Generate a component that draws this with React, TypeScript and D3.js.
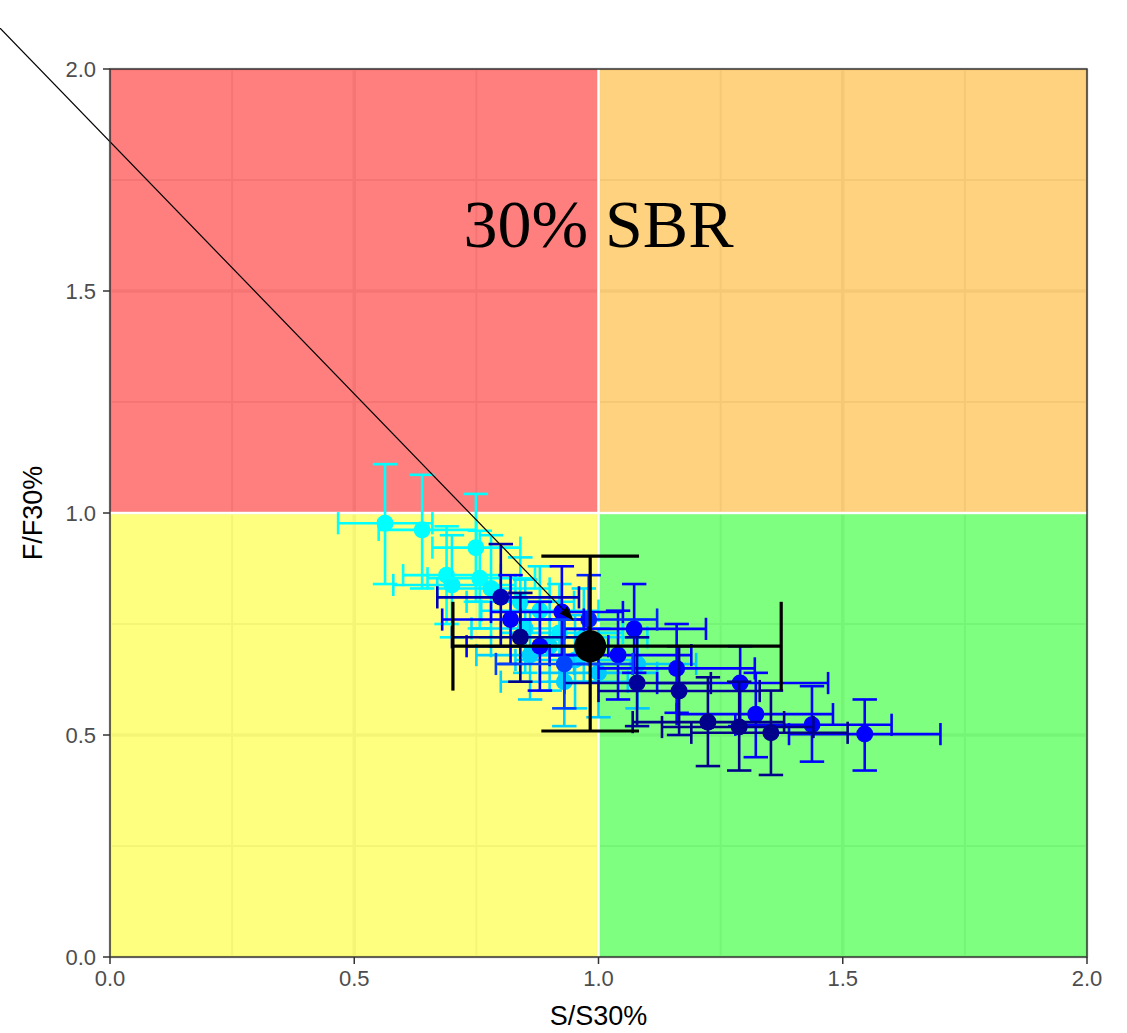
import React from "react";
import * as d3 from "d3";

const W = 1127;
const H = 1033;
const M = { left: 110, right: 1087, top: 69, bottom: 957 };

const xTicks = [0, 0.5, 1, 1.5, 2];
const yTicks = [0, 0.5, 1, 1.5, 2];
const minorTicks = [0.25, 0.75, 1.25, 1.75];

// individual estimates (S/S30%, F/F30%) with intervals; shade 0 = cyan ... 1 = navy
const ptX = [0.563, 0.639, 0.749, 0.689, 0.70, 0.757, 0.78, 0.84, 0.88, 0.85, 0.92, 0.952, 0.97, 0.90, 0.86, 1.0, 0.93, 1.08,
  0.925, 0.80, 1.073, 1.04, 1.16, 1.29, 1.322, 1.437, 1.545, 0.98, 0.88, 0.82,
  1.079, 1.165, 1.224, 1.288, 1.353, 0.84, 0.93];
const ptY = [0.977, 0.962, 0.922, 0.86, 0.838, 0.853, 0.83, 0.80, 0.78, 0.74, 0.73, 0.669, 0.72, 0.70, 0.68, 0.64, 0.62, 0.66,
  0.777, 0.81, 0.739, 0.68, 0.65, 0.617, 0.547, 0.523, 0.502, 0.76, 0.70, 0.76,
  0.617, 0.599, 0.529, 0.518, 0.505, 0.72, 0.66];
const ptXLo = [0.467, 0.55, 0.66, 0.60, 0.58, 0.65, 0.67, 0.73, 0.76, 0.74, 0.80, 0.83, 0.85, 0.78, 0.75, 0.88, 0.80, 0.95,
  0.78, 0.67, 0.93, 0.90, 1.00, 1.12, 1.16, 1.28, 1.39, 0.84, 0.73, 0.68,
  0.93, 1.00, 1.07, 1.13, 1.19, 0.70, 0.79];
const ptXHi = [0.66, 0.75, 0.84, 0.80, 0.83, 0.87, 0.90, 0.95, 1.0, 0.97, 1.05, 1.08, 1.10, 1.02, 0.98, 1.12, 1.06, 1.20,
  1.05, 0.96, 1.22, 1.19, 1.32, 1.47, 1.48, 1.60, 1.70, 1.12, 1.02, 0.97,
  1.23, 1.33, 1.38, 1.44, 1.51, 0.98, 1.07];
const ptYLo = [0.84, 0.83, 0.80, 0.75, 0.72, 0.74, 0.72, 0.70, 0.68, 0.64, 0.62, 0.56, 0.62, 0.60, 0.58, 0.54, 0.52, 0.56,
  0.68, 0.70, 0.64, 0.58, 0.55, 0.52, 0.45, 0.44, 0.42, 0.66, 0.60, 0.66,
  0.52, 0.50, 0.43, 0.42, 0.41, 0.62, 0.56];
const ptYHi = [1.11, 1.086, 1.043, 0.97, 0.95, 0.96, 0.95, 0.90, 0.88, 0.85, 0.84, 0.77, 0.83, 0.80, 0.78, 0.74, 0.72, 0.76,
  0.88, 0.93, 0.84, 0.78, 0.75, 0.70, 0.64, 0.61, 0.58, 0.86, 0.80, 0.86,
  0.72, 0.70, 0.63, 0.62, 0.60, 0.82, 0.76];
const ptShade = [0, 0, 0, 0, 0.05, 0, 0.05, 0.1, 0.1, 0.15, 0.1, 0.2, 0.15, 0.2, 0.25, 0.3, 0.25, 0.3,
  0.6, 0.85, 0.6, 0.6, 0.6, 0.6, 0.6, 0.6, 0.6, 0.55, 0.6, 0.6,
  0.95, 0.95, 1, 1, 1, 1, 0.5];

// reference (base case) estimate
const refX = 0.983, refY = 0.70, refXLo = 0.702, refXHi = 1.374, refYLo = 0.509, refYHi = 0.903;

// arrow annotation
const arrowFrom = [-0.3, 2.177];
const arrowTo = [0.95, 0.757];

const labelText = "30% SBR";
const labelPos = [1.0, 1.65];

const quadrants = [
  { x0: 0, x1: 1, y0: 1, y1: 2, fill: "#FF0000" },
  { x0: 1, x1: 2, y0: 1, y1: 2, fill: "#FFA500" },
  { x0: 0, x1: 1, y0: 0, y1: 1, fill: "#FFFF00" },
  { x0: 1, x1: 2, y0: 0, y1: 1, fill: "#00FF00" },
];

export default function App() {
  const x = d3.scaleLinear().domain([0, 2]).range([M.left, M.right]);
  const y = d3.scaleLinear().domain([0, 2]).range([M.bottom, M.top]);
  const color = d3.scaleLinear<string>()
    .domain([0, 0.3, 0.6, 1])
    .range(["#00FFFF", "#00C8FF", "#0000FF", "#00008B"]);

  const capSx = (x(0.025) - x(0));
  const capSy = (y(0) - y(0.025));
  const bigCapX = x(0.1) - x(0);
  const bigCapY = y(0) - y(0.1);
  const idx = d3.range(ptX.length);

  const ax0 = x(arrowFrom[0]), ay0 = y(arrowFrom[1]);
  const ax1 = x(arrowTo[0]), ay1 = y(arrowTo[1]);
  const ang = Math.atan2(ay1 - ay0, ax1 - ax0);
  const aLen = 16, aW = 0.32;
  const head = [
    [ax1, ay1],
    [ax1 - aLen * Math.cos(ang - aW), ay1 - aLen * Math.sin(ang - aW)],
    [ax1 - aLen * Math.cos(ang + aW), ay1 - aLen * Math.sin(ang + aW)],
  ];

  const font = "'Liberation Sans', Arial, sans-serif";

  return (
    <svg width={W} height={H} style={{ position: "absolute", left: 0, top: 0, background: "#fff" }}>
      <rect x={0} y={0} width={W} height={H} fill="#fff" />
      {/* grid */}
      {minorTicks.map((t) => (
        <g key={"mn" + t}>
          <line x1={x(t)} x2={x(t)} y1={M.top} y2={M.bottom} stroke="#EBEBEB" strokeWidth={2} />
          <line x1={M.left} x2={M.right} y1={y(t)} y2={y(t)} stroke="#EBEBEB" strokeWidth={2} />
        </g>
      ))}
      {xTicks.map((t) => (
        <g key={"mj" + t}>
          <line x1={x(t)} x2={x(t)} y1={M.top} y2={M.bottom} stroke="#EBEBEB" strokeWidth={3.5} />
          <line x1={M.left} x2={M.right} y1={y(t)} y2={y(t)} stroke="#EBEBEB" strokeWidth={3.5} />
        </g>
      ))}
      {/* quadrants */}
      {quadrants.map((q, i) => (
        <rect key={i} x={x(q.x0)} y={y(q.y1)} width={x(q.x1) - x(q.x0)} height={y(q.y0) - y(q.y1)}
          fill={q.fill} fillOpacity={0.5} />
      ))}
      <line x1={x(1)} x2={x(1)} y1={M.top} y2={M.bottom} stroke="#fff" strokeWidth={2.5} />
      <line x1={M.left} x2={M.right} y1={y(1)} y2={y(1)} stroke="#fff" strokeWidth={2.5} />

      <text x={x(labelPos[0])} y={y(labelPos[1])} dominantBaseline="central" textAnchor="middle"
        fontFamily="'Liberation Serif', 'DejaVu Serif', serif" fontSize={68} fill="#000">{labelText}</text>

      {/* error bars + points */}
      {idx.map((i) => {
        const c = color(ptShade[i]);
        const cx = x(ptX[i]), cy = y(ptY[i]);
        return (
          <g key={"eb" + i}>
            <g stroke={c} strokeWidth={2.6} fill="none">
              <line x1={cx} x2={cx} y1={y(ptYLo[i])} y2={y(ptYHi[i])} />
              <line x1={cx - capSx} x2={cx + capSx} y1={y(ptYLo[i])} y2={y(ptYLo[i])} />
              <line x1={cx - capSx} x2={cx + capSx} y1={y(ptYHi[i])} y2={y(ptYHi[i])} />
              <line x1={x(ptXLo[i])} x2={x(ptXHi[i])} y1={cy} y2={cy} />
              <line x1={x(ptXLo[i])} x2={x(ptXLo[i])} y1={cy - capSy} y2={cy + capSy} />
              <line x1={x(ptXHi[i])} x2={x(ptXHi[i])} y1={cy - capSy} y2={cy + capSy} />
            </g>
            <circle cx={cx} cy={cy} r={8.5} fill={c} />
          </g>
        );
      })}

      {/* reference point */}
      <g stroke="#000" strokeWidth={3.2}>
        <line x1={x(refX)} x2={x(refX)} y1={y(refYLo)} y2={y(refYHi)} />
        <line x1={x(refX) - bigCapX} x2={x(refX) + bigCapX} y1={y(refYLo)} y2={y(refYLo)} />
        <line x1={x(refX) - bigCapX} x2={x(refX) + bigCapX} y1={y(refYHi)} y2={y(refYHi)} />
        <line x1={x(refXLo)} x2={x(refXHi)} y1={y(refY)} y2={y(refY)} />
        <line x1={x(refXLo)} x2={x(refXLo)} y1={y(refY) - bigCapY} y2={y(refY) + bigCapY} />
        <line x1={x(refXHi)} x2={x(refXHi)} y1={y(refY) - bigCapY} y2={y(refY) + bigCapY} />
      </g>
      <circle cx={x(refX)} cy={y(refY)} r={16} fill="#000" />

      {/* arrow */}
      <line x1={ax0} y1={ay0} x2={ax1 - 8 * Math.cos(ang)} y2={ay1 - 8 * Math.sin(ang)} stroke="#000" strokeWidth={1.2} />
      <polygon points={head.map((p) => p.join(",")).join(" ")} fill="#000" />

      {/* panel border */}
      <rect x={M.left} y={M.top} width={M.right - M.left} height={M.bottom - M.top} fill="none" stroke="#333" strokeWidth={1.5} />

      {/* axes ticks & labels */}
      {xTicks.map((t) => (
        <g key={"xt" + t}>
          <line x1={x(t)} x2={x(t)} y1={M.bottom} y2={M.bottom + 7} stroke="#333" strokeWidth={1.5} />
          <text x={x(t)} y={M.bottom + 13} dominantBaseline="hanging" textAnchor="middle" fontFamily={font}
            fontSize={22} fill="#4D4D4D">{d3.format(".1f")(t)}</text>
        </g>
      ))}
      {yTicks.map((t) => (
        <g key={"yt" + t}>
          <line x1={M.left - 7} x2={M.left} y1={y(t)} y2={y(t)} stroke="#333" strokeWidth={1.5} />
          <text x={M.left - 14} y={y(t)} dominantBaseline="central" textAnchor="end" fontFamily={font}
            fontSize={22} fill="#4D4D4D">{d3.format(".1f")(t)}</text>
        </g>
      ))}
      <text x={(M.left + M.right) / 2} y={1025} textAnchor="middle" fontFamily={font} fontSize={27} fill="#000">S/S30%</text>
      <text transform={`translate(42, ${(M.top + M.bottom) / 2}) rotate(-90)`} textAnchor="middle"
        fontFamily={font} fontSize={27} fill="#000">F/F30%</text>
    </svg>
  );
}
